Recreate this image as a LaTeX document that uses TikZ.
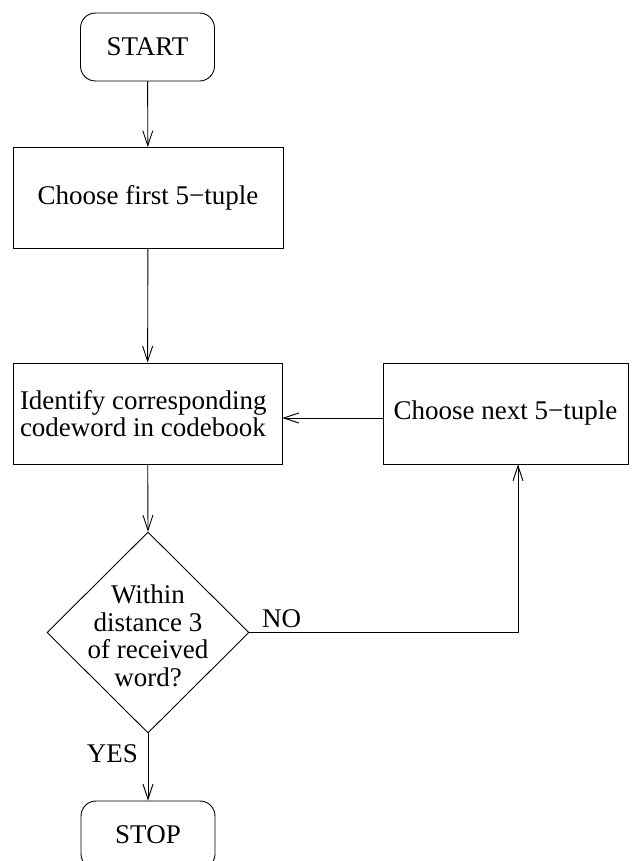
\documentclass[tikz,border=0pt]{standalone}
\usepackage{fontspec}
\setmainfont{Liberation Serif}
\usetikzlibrary{arrows.meta,shapes.geometric}
\begin{document}
\begin{tikzpicture}[x=1pt,y=-1pt,
  every node/.style={font=\fontsize{27}{27.5}\selectfont, inner sep=0pt},
  procbox/.style={draw, line width=0.9pt, rectangle, minimum height=101pt},
  termbox/.style={draw, line width=0.9pt, rounded corners=15pt, minimum width=134pt, minimum height=68pt},
  decbox/.style={draw, line width=0.9pt, diamond, minimum width=202pt, minimum height=201pt},
  conn/.style={line width=0.9pt, -{Straight Barb[length=15pt,width=10pt,line width=0.9pt]}},
  ]
\clip (0,0) rectangle (641,861);
\fill[white] (0,0) rectangle (641,861);
\node[termbox] (start) at (147.5,47) {START};
\node[procbox, minimum width=270pt] (first) at (148,198) {Choose first 5−tuple};
\node[procbox, minimum width=269pt, text width=255pt, align=flush left] (ident) at (147.5,413.5) {Identify corresponding\\codeword in codebook};
\node[procbox, minimum width=245pt] (next) at (505.5,413.5) {\raisebox{3pt}{Choose next 5−tuple}};
\node[decbox] (dec) at (148,632.5) {};
\node[align=center] (dectext) at (148,636) {Within\\distance 3\\of received\\word?};
\node[termbox] (stop) at (148,835) {STOP};
\coordinate (corner) at (518,632.5);
\node[anchor=base west] (no) at (262,627) {NO};
\node[anchor=base east] (yes) at (138,762) {YES};
\draw[conn] (start) -- (first);
\draw[conn] (first) -- (ident);
\draw[conn] ([yshift=-4.5pt]next.west) -- ([yshift=-4.5pt]ident.east);
\draw[conn] (ident) -- (dec.north);
\draw[conn] (dec.south) -- (stop.north);
\draw[conn] (dec.east) -- (corner) -- (corner |- next.south);
\end{tikzpicture}
\end{document}
